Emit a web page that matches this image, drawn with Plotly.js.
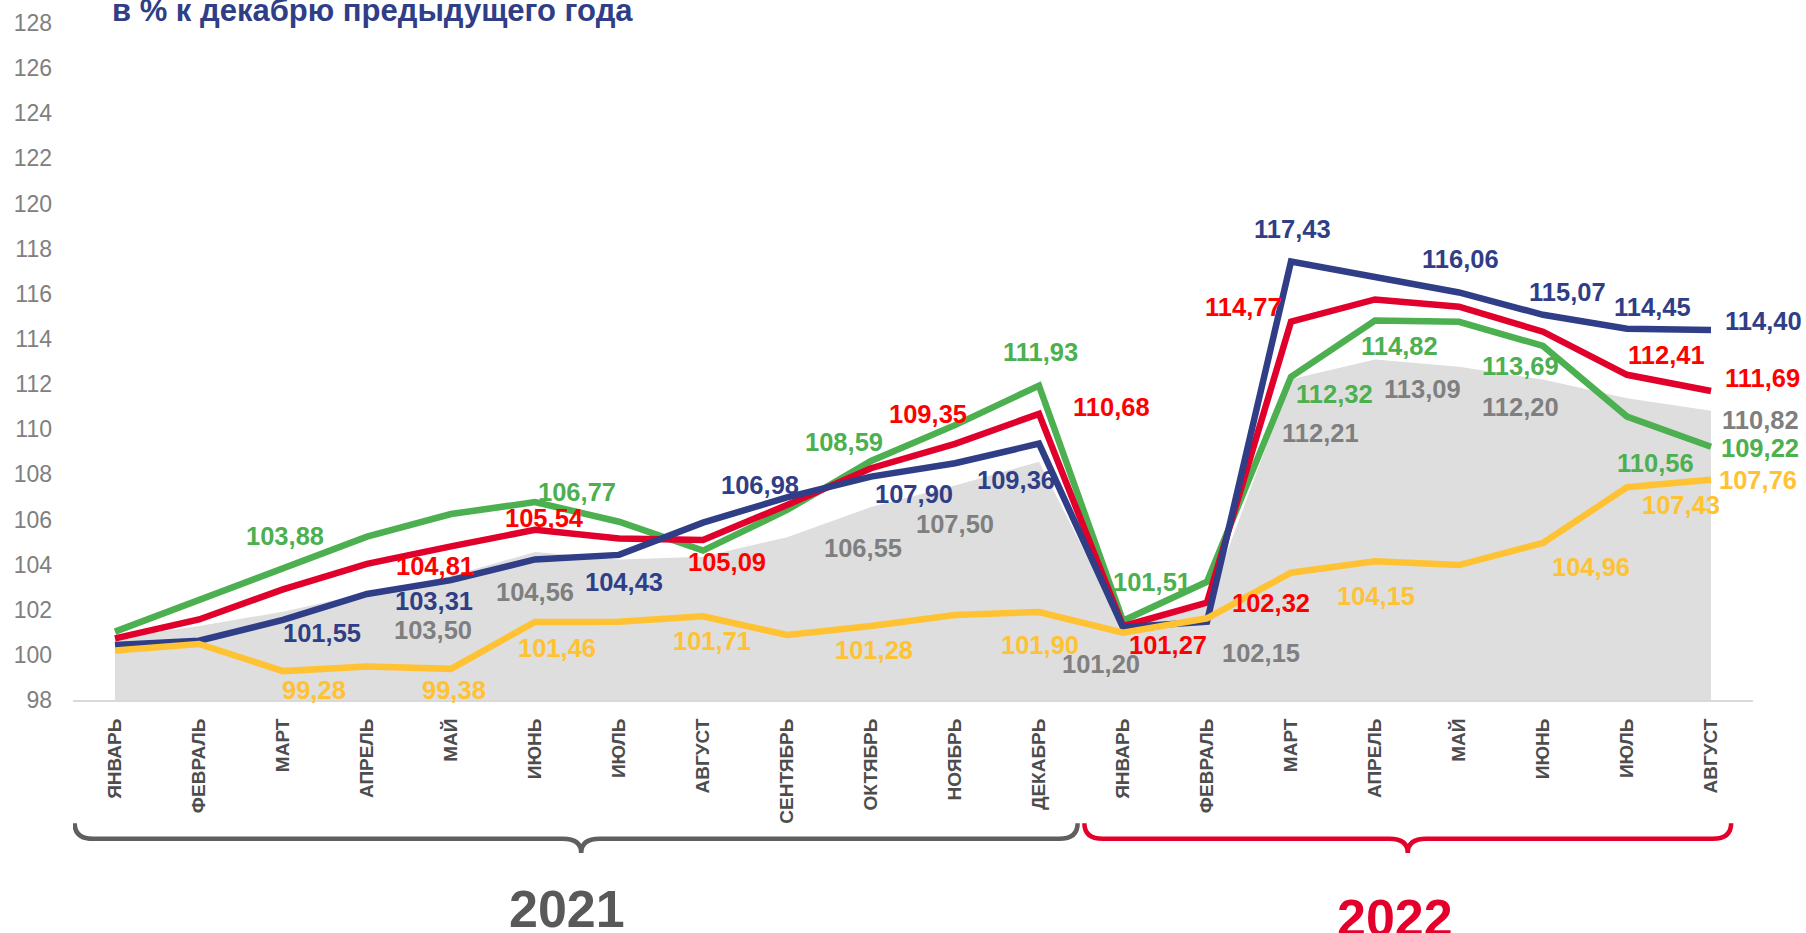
<!DOCTYPE html>
<html>
<head>
<meta charset="utf-8">
<script src="https://cdn.plot.ly/plotly-3.0.1.min.js"></script>
<style>
  html, body { margin: 0; padding: 0; background: #ffffff; }
  #chart { width: 1806px; height: 933px; }
</style>
</head>
<body>
<div id="chart"></div>
<script>
// ---- data ----
const months = ['ЯНВАРЬ','ФЕВРАЛЬ','МАРТ','АПРЕЛЬ','МАЙ','ИЮНЬ','ИЮЛЬ','АВГУСТ','СЕНТЯБРЬ','ОКТЯБРЬ','НОЯБРЬ','ДЕКАБРЬ',
                'ЯНВАРЬ','ФЕВРАЛЬ','МАРТ','АПРЕЛЬ','МАЙ','ИЮНЬ','ИЮЛЬ','АВГУСТ'];
const years = ['2021', '2022'];

const greenVals  = [101.03, 102.43, 103.88, 105.24, 106.24, 106.77, 105.90, 104.62, 106.42, 108.59, 110.18, 111.93,
                    101.51, 103.24, 112.32, 114.82, 114.76, 113.69, 110.56, 109.22];
const redVals    = [100.73, 101.57, 102.90, 104.03, 104.81, 105.54, 105.16, 105.09, 106.64, 108.27, 109.35, 110.68,
                    101.27, 102.32, 114.77, 115.75, 115.43, 114.32, 112.41, 111.69];
const blueVals   = [100.44, 100.63, 101.55, 102.70, 103.31, 104.23, 104.43, 105.86, 106.98, 107.90, 108.49, 109.36,
                    101.22, 101.47, 117.43, 116.75, 116.06, 115.07, 114.45, 114.40];
const grayVals   = [100.75, 101.28, 101.91, 102.74, 103.50, 104.56, 104.23, 104.35, 105.21, 106.55, 107.50, 108.56,
                    101.20, 102.15, 112.21, 113.09, 112.77, 112.20, 111.37, 110.82];
const yellowVals = [100.19, 100.48, 99.28, 99.48, 99.38, 101.46, 101.47, 101.71, 100.88, 101.28, 101.77, 101.90,
                    100.98, 101.62, 103.64, 104.15, 103.98, 104.96, 107.43, 107.76];

// which points carry a value label
const greenLabeled  = [2, 5, 9, 11, 12, 14, 15, 17, 18, 19];
const redLabeled    = [4, 5, 7, 10, 11, 12, 13, 14, 18, 19];
const blueLabeled   = [2, 4, 6, 8, 9, 11, 14, 16, 17, 18, 19];
const grayLabeled   = [4, 5, 9, 10, 12, 13, 14, 15, 17, 19];
const yellowLabeled = [2, 4, 5, 7, 9, 11, 15, 17, 18, 19];

// ---- styling / placement (pixel offsets of labels from their points: [dx, dy down]) ----
const greenOff  = [[2,-31],[42,-10],[-27,-19],[1,-34],[29,-39],[43,17],[24,26],[-23,20],[28,46],[49,1]];
const redOff    = [[-16,20],[9,-12],[24,22],[-27,-30],[72,-7],[45,19],[64,0],[-48,-15],[39,-20],[51,-13]];
const blueOff   = [[39,13],[-17,21],[5,27],[-27,-12],[43,17],[-23,36],[1,-33],[1,-33],[24,-23],[25,-22],[52,-9]];
const grayOff   = [[-18,54],[0,40],[-8,41],[0,38],[-22,36],[54,47],[29,54],[47,30],[-23,27],[49,9]];
const yellowOff = [[31,19],[3,21],[22,26],[9,25],[3,24],[1,33],[1,35],[48,24],[54,18],[47,0]];

const C = {
  green: '#4CAF50', greenTxt: '#4CAF50',
  red: '#E1002B', redTxt: '#FF0000',
  blue: '#2F3E86', blueTxt: '#2F3E86',
  gray: '#DEDEDE', grayTxt: '#7F7F7F',
  yellow: '#FFC233', yellowTxt: '#FFC233'
};
const FONT = '"Liberation Sans", Arial, Helvetica, sans-serif';
const idx = months.map((m, i) => i);

const lineW = 6.5;
const traces = [
  { x: idx, y: grayVals, type: 'scatter', mode: 'lines', fill: 'tozeroy',
    fillcolor: C.gray, line: { color: C.gray, width: 0 }, hoverinfo: 'skip' },
  { x: idx, y: greenVals, type: 'scatter', mode: 'lines', line: { color: C.green, width: lineW } },
  { x: idx, y: redVals, type: 'scatter', mode: 'lines', line: { color: C.red, width: lineW } },
  { x: idx, y: blueVals, type: 'scatter', mode: 'lines', line: { color: C.blue, width: lineW } },
  { x: idx, y: yellowVals, type: 'scatter', mode: 'lines', line: { color: C.yellow, width: lineW } }
];

const fmt = v => v.toFixed(2).replace('.', ',');
const annotations = [];
function addLabels(vals, labeled, offs, color) {
  labeled.forEach((i, k) => {
    annotations.push({
      x: i, y: vals[i], xref: 'x', yref: 'y', text: fmt(vals[i]), showarrow: false,
      xanchor: 'center', yanchor: 'middle', xshift: offs[k][0], yshift: -offs[k][1],
      font: { family: FONT, size: 25.5, color: color, weight: 'bold' }
    });
  });
}
addLabels(grayVals, grayLabeled, grayOff, C.grayTxt);
addLabels(yellowVals, yellowLabeled, yellowOff, C.yellowTxt);
addLabels(blueVals, blueLabeled, blueOff, C.blueTxt);
addLabels(redVals, redLabeled, redOff, C.redTxt);
addLabels(greenVals, greenLabeled, greenOff, C.greenTxt);

// title
annotations.push({
  xref: 'paper', yref: 'paper', x: (110 - 73) / 1680, y: 1.018, xanchor: 'left', yanchor: 'middle',
  text: '<b>в % к декабрю предыдущего года</b>', showarrow: false,
  font: { family: FONT, size: 31, color: '#2F3E86' }
});
// year labels
annotations.push({
  xref: 'x', yref: 'paper', x: 5.38, y: -0.309, xanchor: 'center', yanchor: 'middle',
  text: '<b>' + years[0] + '</b>', showarrow: false,
  font: { family: FONT, size: 52, color: '#595959' }
});
annotations.push({
  xref: 'x', yref: 'paper', x: 15.24, y: -0.322, xanchor: 'center', yanchor: 'middle',
  text: '<b>' + years[1] + '</b>', showarrow: false,
  font: { family: FONT, size: 52, color: '#E4002B' }
});

// braces
function brace(x0, x1, xm, color) {
  const yt = -0.182, yb = -0.205, yp = -0.226, r = 0.22;
  const p = `M ${x0},${yt} Q ${x0},${yb} ${x0 + r},${yb} L ${xm - r},${yb} Q ${xm},${yb} ${xm},${yp} ` +
            `Q ${xm},${yb} ${xm + r},${yb} L ${x1 - r},${yb} Q ${x1},${yb} ${x1},${yt}`;
  return { type: 'path', xref: 'x', yref: 'paper', path: p, line: { color: color, width: 4.5 } };
}
const shapes = [
  brace(-0.48, 11.46, 5.55, '#5F5F5F'),
  brace(11.54, 19.24, 15.39, '#E4002B')
];

const layout = {
  width: 1806, height: 933,
  margin: { l: 73, r: 53, t: 23, b: 233 },
  paper_bgcolor: '#ffffff', plot_bgcolor: '#ffffff',
  showlegend: false,
  xaxis: {
    type: 'linear', range: [-0.5, 19.5], tickmode: 'array', tickvals: idx, ticktext: months,
    tickangle: -90, showgrid: false, zeroline: false, showline: true, linecolor: '#D9D9D9', linewidth: 2,
    ticks: '', ticklabelstandoff: 9,
    tickfont: { family: FONT, size: 19, color: '#4D4D4D', weight: 'bold' }
  },
  yaxis: {
    range: [98, 128], dtick: 2, tick0: 98, showgrid: false, zeroline: false, showline: false,
    ticks: '', ticklabelstandoff: 20,
    tickfont: { family: FONT, size: 23, color: '#808080' }
  },
  annotations: annotations,
  shapes: shapes
};

Plotly.newPlot('chart', traces, layout, { staticPlot: true, displayModeBar: false });
</script>
</body>
</html>
